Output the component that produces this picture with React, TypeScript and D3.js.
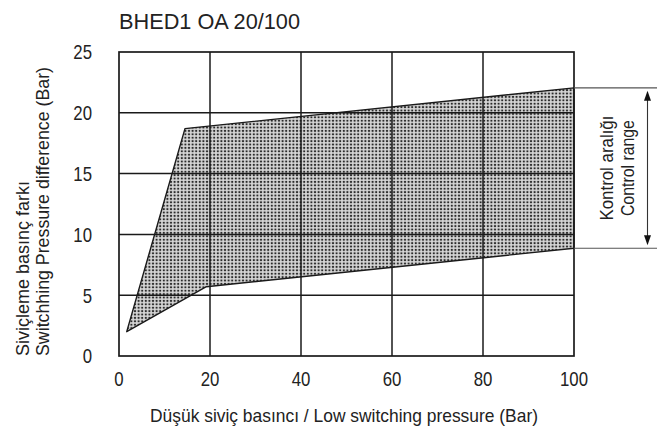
import React from "react";
import * as d3 from "d3";

const title = "BHED1 OA 20/100";
const xTicks = [0, 20, 40, 60, 80, 100];
const yTicks = [0, 5, 10, 15, 20, 25];
const upperX = [1.7, 14.5, 100];
const upperY = [2.0, 18.7, 22.05];
const lowerX = [1.7, 19.2, 100];
const lowerY = [2.0, 5.7, 8.86];
const controlRange = [8.86, 22.05];
const xLabel = "Düşük siviç basıncı / Low switching pressure (Bar)";
const yLabel1 = "Siviçleme basınç farkı";
const yLabel2 = "Switchhing Pressure difference (Bar)";
const ctrlLabel1 = "Kontrol aralığı";
const ctrlLabel2 = "Control range";

const W = 657, H = 436;
const L = 119, R = 574, T = 52, B = 356;
const FONT = "'Liberation Sans', Arial, sans-serif";
const SX = 0.84;

export default function App() {
  const x = d3.scaleLinear().domain([0, 100]).range([L, R]);
  const y = d3.scaleLinear().domain([0, 25]).range([B, T]);
  const upper = upperX.map((v, i) => [v, upperY[i]] as [number, number]);
  const lower = lowerX.map((v, i) => [v, lowerY[i]] as [number, number]);
  const poly = [...upper, ...lower.slice().reverse()];
  const line = d3.line<[number, number]>().x(d => x(d[0])).y(d => y(d[1]));
  const polyPath = line(poly) + "Z";
  const yTop = y(controlRange[1]);
  const yBot = y(controlRange[0]);
  const ax = 647.5;
  const mid = (yTop + yBot) / 2;
  return (
    <svg width={W} height={H} style={{ position: "absolute", left: 0, top: 0, background: "#fff" }}>
      <defs>
        <pattern id="dots" width={3.6} height={3.4} patternUnits="userSpaceOnUse">
          <rect width={3.6} height={3.4} fill="#d6d6d6" />
          <circle cx={1.8} cy={1.7} r={1.15} fill="#2a2a2a" />
        </pattern>
      </defs>
      <rect x={0} y={0} width={W} height={H} fill="#fff" />
      <text x={119} y={28.5} fontFamily={FONT} fontSize={22} fill="#222" textLength={181} lengthAdjust="spacingAndGlyphs">{title}</text>
      <path d={polyPath} fill="url(#dots)" stroke="none" />
      {xTicks.slice(1, -1).map(t => (
        <line key={"gx" + t} x1={x(t)} x2={x(t)} y1={T} y2={B} stroke="#1a1a1a" strokeWidth={1.5} />
      ))}
      {yTicks.slice(1, -1).map(t => (
        <line key={"gy" + t} x1={L} x2={R} y1={y(t)} y2={y(t)} stroke="#1a1a1a" strokeWidth={1.5} />
      ))}
      <rect x={L} y={T} width={R - L} height={B - T} fill="none" stroke="#1a1a1a" strokeWidth={1.7} />
      <path d={polyPath} fill="none" stroke="#1a1a1a" strokeWidth={1.4} strokeLinejoin="round" />
      {xTicks.map(t => (
        <text key={"tx" + t} transform={`translate(${x(t)},385.5) scale(${SX},1)`} textAnchor="middle" fontFamily={FONT} fontSize={20} fill="#222">{t}</text>
      ))}
      {yTicks.map(t => (
        <text key={"ty" + t} transform={`translate(92,${y(t) + 7.3}) scale(${SX},1)`} textAnchor="end" fontFamily={FONT} fontSize={20} fill="#222">{t}</text>
      ))}
      <text x={150} y={421.5} fontFamily={FONT} fontSize={19} fill="#222" textLength={388} lengthAdjust="spacingAndGlyphs">{xLabel}</text>
      <text transform="translate(28.5,356) rotate(-90)" fontFamily={FONT} fontSize={18.5} fill="#222" textLength={175} lengthAdjust="spacingAndGlyphs">{yLabel1}</text>
      <text transform="translate(48.5,356) rotate(-90)" fontFamily={FONT} fontSize={18.5} fill="#222" textLength={289} lengthAdjust="spacingAndGlyphs">{yLabel2}</text>
      <line x1={R} x2={W} y1={yTop} y2={yTop} stroke="#555" strokeWidth={1.2} />
      <line x1={R} x2={W} y1={yBot} y2={yBot} stroke="#555" strokeWidth={1.2} />
      <line x1={ax} x2={ax} y1={yTop + 8} y2={yBot - 8} stroke="#333" strokeWidth={1.1} />
      <path d={`M${ax},${yTop + 3}L${ax - 3.5},${yTop + 13}L${ax + 3.5},${yTop + 13}Z`} fill="#111" />
      <path d={`M${ax},${yBot - 3}L${ax - 3.5},${yBot - 13}L${ax + 3.5},${yBot - 13}Z`} fill="#111" />
      <text transform={`translate(613,${mid}) rotate(-90)`} textAnchor="middle" fontFamily={FONT} fontSize={18} fill="#222" textLength={105} lengthAdjust="spacingAndGlyphs">{ctrlLabel1}</text>
      <text transform={`translate(634,${mid}) rotate(-90)`} textAnchor="middle" fontFamily={FONT} fontSize={18} fill="#222" textLength={96} lengthAdjust="spacingAndGlyphs">{ctrlLabel2}</text>
    </svg>
  );
}
